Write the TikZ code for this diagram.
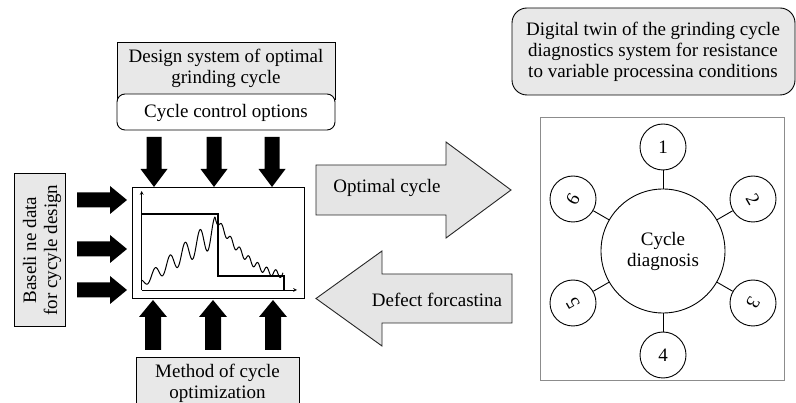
\documentclass[tikz,border=0pt]{standalone}
\usepackage{fontspec}
\setmainfont{Liberation Serif}
\definecolor{boxgray}{gray}{0.91}
\definecolor{arrgray}{gray}{0.90}
\begin{document}
\begin{tikzpicture}[x=1pt,y=-1pt,
  txt/.style={font=\fontsize{19}{21}\selectfont, align=center, inner sep=0pt},
  frame/.style={draw=black, line width=0.9pt},
  bigarrow/.style={draw=black!85, fill=arrgray, line width=0.9pt, line join=miter},
  blkarrow/.style={fill=black},
  small/.style={circle, draw=black, line width=0.9pt, minimum size=46pt, inner sep=0pt, font=\fontsize{19}{21}\selectfont},
  link/.style={draw=black, line width=0.9pt}
]
\useasboundingbox (0,0) rectangle (796,403);
\fill[white] (0,0) rectangle (796,403);

% ---- top box
\fill[boxgray] (117,42) rectangle (335,100);
\draw[frame] (117,100) -- (117,42) -- (335,42) -- (335,100);
\draw[frame, fill=white, rounded corners=8pt] (117,94) rectangle (335,130);
\node[txt] (design) at (226,68) {Design system of optimal\\grinding cycle};
\node[txt] (ctrl) at (226,113) {Cycle control options};

% ---- left box
\node[frame, fill=boxgray, minimum width=51pt, minimum height=153pt, inner sep=0pt] (base) at (39.5,249.5) {};
\node[txt, rotate=90] (basetxt) at (42,250) {Baseli ne data\\for cycyle design};

% ---- bottom box
\fill[boxgray] (136,357) rectangle (299,403);
\draw[frame] (136,403) -- (136,357) -- (299,357) -- (299,403);
\node[txt] (method) at (217.5,383) {Method of cycle\\optimization};

% ---- chart box
\node[frame, minimum width=172pt, minimum height=111pt, inner sep=0pt] (chart) at (218,242.5) {};
\draw[line width=0.7pt, -stealth] (141.7,290) -- (141.7,191);
\draw[line width=0.7pt, -stealth] (141.7,290) -- (297,290);
\draw[line width=1.4pt] (141.7,214) -- (218,214) -- (218,276) -- (284,276) -- (284,290);
\draw[line width=1pt, smooth, samples=160, domain=142:215]
  plot (\x, {283 - 0.7*(\x-142) - (4+11*(\x-142)/73)*cos(24*(\x-215))});
\draw[line width=1pt, smooth, samples=120, domain=215:283]
  plot (\x, {217 + 57*(1-(1-(\x-215)/68)*(1-(\x-215)/68)) + 3.6*sin(40*(\x-215))});

% ---- black input arrows (top)
\foreach \cx in {154,214,272}
  \fill[blkarrow] (\cx-7.5,137) -- (\cx+7.5,137) -- (\cx+7.5,169) -- (\cx+13.5,169)
    -- (\cx,187) -- (\cx-13.5,169) -- (\cx-7.5,169) -- cycle;
% left
\foreach \cy in {200,249,290}
  \fill[blkarrow] (77,\cy-7.5) -- (110,\cy-7.5) -- (110,\cy-14) -- (127,\cy)
    -- (110,\cy+14) -- (110,\cy+7.5) -- (77,\cy+7.5) -- cycle;
% bottom
\foreach \cx in {153,213,273}
  \fill[blkarrow] (\cx-8,350) -- (\cx+8,350) -- (\cx+8,317) -- (\cx+14,317)
    -- (\cx,300) -- (\cx-14,317) -- (\cx-8,317) -- cycle;

% ---- big grey arrows
\draw[bigarrow] (316,165) -- (446,165) -- (446,142) -- (511,190) -- (446,238) -- (446,215) -- (316,215) -- cycle;
\node[txt] (opt) at (387,188) {Optimal cycle};
\draw[bigarrow] (512,274) -- (382,274) -- (382,251) -- (316,298.5) -- (382,346) -- (382,323) -- (512,323) -- cycle;
\node[txt] (defect) at (437,300) {Defect forcastina};

% ---- digital twin title
\draw[frame, fill=boxgray, rounded corners=15pt] (512,8) rectangle (795,95);
\node[txt] (twin) at (653,52) {Digital twin of the grinding cycle\\diagnostics system for resistance\\to variable processina conditions};

% ---- diagnosis square
\draw[draw=black!45, line width=0.9pt] (540,117) rectangle (784,380);
\node[circle, draw=black, line width=0.9pt, minimum size=124pt, inner sep=0pt, txt] (diag) at (663,251) {Cycle\\diagnosis};
\node[small] (c1) at (663,147) {1};
\node[small] (c2) at (753,199) {\rotatebox{-60}{2}};
\node[small] (c3) at (753,303) {\rotatebox{-120}{3}};
\node[small] (c4) at (663,355) {4};
\node[small] (c5) at (573,303) {\rotatebox{120}{5}};
\node[small] (c6) at (573,199) {\rotatebox{60}{6}};
\foreach \c in {c1,c2,c3,c4,c5,c6}
  \draw[link] (diag) -- (\c);
\end{tikzpicture}
\end{document}
